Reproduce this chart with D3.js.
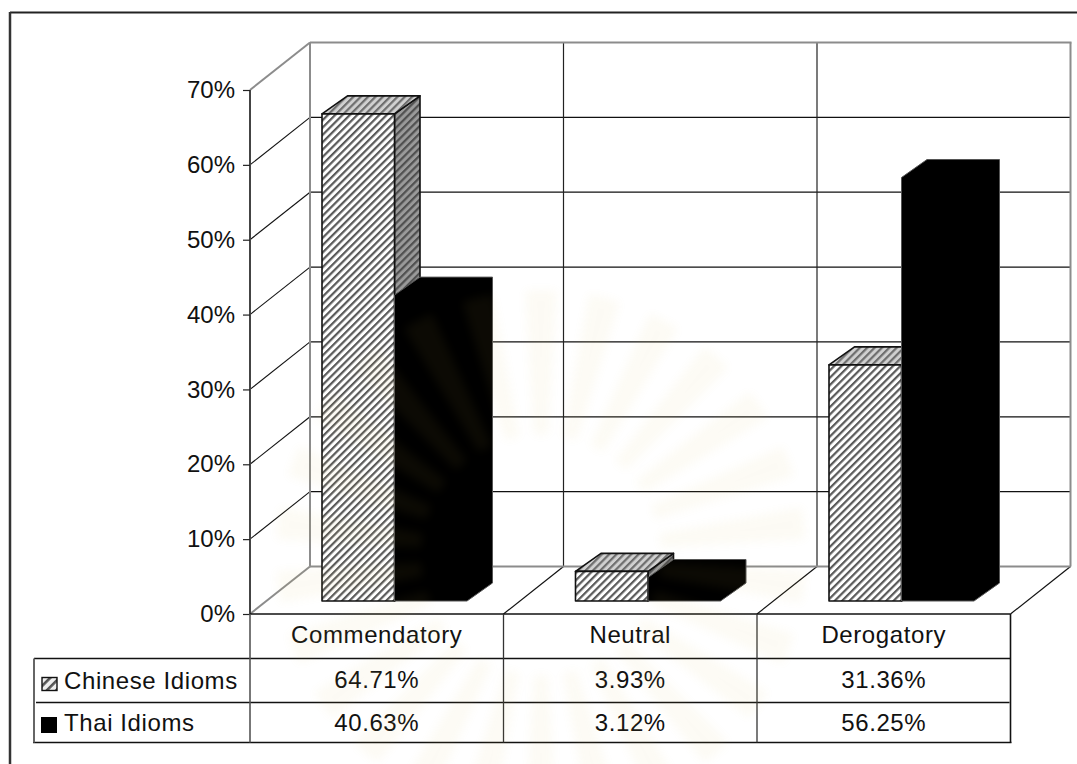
<!DOCTYPE html>
<html>
  <head>
    <title>Chinese and Thai Idioms</title>
    <script src="https://d3js.org/d3.v7.min.js"></script>
    <style>
      html, body { margin: 0; background: #fff; }
      svg { display: block; }
      text {
        font-family: "Liberation Sans", Arial, sans-serif;
        font-size: 24px;
        fill: #111;
        letter-spacing: 0.6px;
      }
    </style>
  </head>
  <body>
    <div id="chart"></div>
    <script>
      const categories = ["Commendatory", "Neutral", "Derogatory"];
      const seriesNames = ["Chinese Idioms", "Thai Idioms"];
      const chineseIdioms = [64.71, 3.93, 31.36];
      const thaiIdioms = [40.63, 3.12, 56.25];
      const tickValues = [0, 10, 20, 30, 40, 50, 60, 70];

      const seriesValues = [chineseIdioms, thaiIdioms];

      const width = 1077;
      const height = 764;
      const plotLeft = 250;
      const plotRight = 1010.5;
      const floorY = 614;
      const topY = 90;
      // how far the back wall is pushed away from the front plane
      const wall = { dx: 60, dy: -47.5 };
      const depth = { dx: 25.5, dy: -18 };
      const barBaseY = 601;
      const rows = [658.5, 702.5, 742.5];
      const legendLeft = 34;

      const svg = d3
        .select("#chart")
        .append("svg")
        .attr("width", width)
        .attr("height", height);

      const x = d3.scaleBand().domain(categories).range([plotLeft, plotRight]);
      const seriesX = d3.scaleBand().domain(seriesNames).range([72, 217]);
      const y = d3.scaleLinear().domain([0, 70]).range([floorY, topY]);
      // bars stand a little forward on the floor, so they get their own scale
      const barY = d3.scaleLinear().domain([0, 70]).range([barBaseY, barBaseY - 527]);

      function hatch(id, back, stripe, size, bar) {
        svg
          .append("defs")
          .append("pattern")
          .attr("id", id)
          .attr("patternUnits", "userSpaceOnUse")
          .attr("width", size)
          .attr("height", size)
          .attr("patternTransform", "rotate(45)")
          .call((p) => {
            p.append("rect").attr("width", size).attr("height", size).attr("fill", back);
            p.append("rect").attr("width", bar).attr("height", size).attr("fill", stripe);
          });
      }
      hatch("hatchFront", "#fff", "#5a5a5a", 5.2, 2.2);
      hatch("hatchTop", "#d0d0d0", "#6e6e6e", 5.2, 2.2);
      hatch("hatchSide", "#9a9a9a", "#505050", 5.2, 2.2);
      hatch("hatchKey", "#eee", "#555", 6.5, 2.6);

      const line = (x1, y1, x2, y2, color, w) =>
        svg
          .append("line")
          .attr("x1", x1)
          .attr("y1", y1)
          .attr("x2", x2)
          .attr("y2", y2)
          .attr("stroke", color)
          .attr("stroke-width", w);

      // outer frame, only top and left are visible
      line(10, 12.5, width, 12.5, "#222", 2);
      line(10, 12, 10, height, "#333", 2.5);

      // gridlines on the side and back walls
      const gridTicks = tickValues.filter((d) => d > 0 && d < 70);
      svg
        .selectAll(".back-grid")
        .data(gridTicks)
        .enter()
        .append("line")
        .attr("x1", plotLeft + wall.dx)
        .attr("x2", plotRight + wall.dx)
        .attr("y1", (d) => y(d) + wall.dy)
        .attr("y2", (d) => y(d) + wall.dy)
        .attr("stroke", "#111")
        .attr("stroke-width", 1.2);
      svg
        .selectAll(".side-grid")
        .data(gridTicks)
        .enter()
        .append("line")
        .attr("x1", plotLeft)
        .attr("x2", plotLeft + wall.dx)
        .attr("y1", (d) => y(d))
        .attr("y2", (d) => y(d) + wall.dy)
        .attr("stroke", "#111")
        .attr("stroke-width", 1.1);

      // category dividers on the back wall and floor
      categories.slice(1).forEach((c) => {
        line(x(c) + wall.dx, y(70) + wall.dy, x(c) + wall.dx, floorY + wall.dy, "#222", 1.2);
      });
      categories.slice(1).concat([null]).forEach((c) => {
        const fx = c ? x(c) : plotRight;
        line(fx, floorY, fx + wall.dx, floorY + wall.dy, "#111", 1.2);
      });

      // wall outlines
      const wallColor = "#8c8c8c";
      line(plotLeft + wall.dx, y(70) + wall.dy, plotRight + wall.dx + 1, y(70) + wall.dy, wallColor, 2);
      line(plotLeft + wall.dx, y(70) + wall.dy, plotLeft + wall.dx, floorY + wall.dy, wallColor, 2);
      line(plotRight + wall.dx, y(70) + wall.dy, plotRight + wall.dx, floorY + wall.dy, wallColor, 2);
      line(plotLeft + wall.dx, floorY + wall.dy, plotRight + wall.dx, floorY + wall.dy, wallColor, 2);
      line(plotLeft, floorY, plotLeft + wall.dx, floorY + wall.dy, wallColor, 2);
      line(plotLeft, y(70), plotLeft + wall.dx, y(70) + wall.dy, wallColor, 2);
      line(plotLeft, y(70), plotLeft, floorY, "#444", 2);

      const polygon = (pts, fill, edge, edgeWidth) =>
        svg
          .append("polygon")
          .attr("points", pts.map((p) => p.join(",")).join(" "))
          .attr("fill", fill)
          .attr("stroke", edge)
          .attr("stroke-width", edgeWidth)
          .attr("stroke-linejoin", "round");

      // one bar as three faces, side and top first so the front sits on them
      function drawHatchedBar(left, w, value) {
        const top = barY(value);
        const right = left + w;
        polygon(
          [
            [right, barBaseY],
            [right + depth.dx, barBaseY + depth.dy],
            [right + depth.dx, top + depth.dy],
            [right, top],
          ],
          "url(#hatchSide)", "#111", 1.6
        );
        polygon(
          [
            [left, top],
            [left + depth.dx, top + depth.dy],
            [right + depth.dx, top + depth.dy],
            [right, top],
          ],
          "url(#hatchTop)", "#111", 1.6
        );
        polygon(
          [
            [left, barBaseY],
            [right, barBaseY],
            [right, top],
            [left, top],
          ],
          "url(#hatchFront)", "#111", 1.6
        );
      }

      // the black bars read as one solid silhouette
      function drawBlackBar(left, w, value) {
        const top = barY(value);
        const right = left + w;
        polygon(
          [
            [left, barBaseY],
            [right, barBaseY],
            [right + depth.dx, barBaseY + depth.dy],
            [right + depth.dx, top + depth.dy],
            [left + depth.dx, top + depth.dy],
            [left, top],
          ],
          "#000", "#555", 1
        );
      }

      categories.forEach((c, i) => {
        drawHatchedBar(x(c) + seriesX(seriesNames[0]), seriesX.bandwidth(), chineseIdioms[i]);
      });
      categories.forEach((c, i) => {
        drawBlackBar(x(c) + seriesX(seriesNames[1]), seriesX.bandwidth(), thaiIdioms[i]);
      });

      // value axis
      const axis = d3
        .axisLeft(y)
        .tickValues(tickValues)
        .tickFormat((d) => d + "%")
        .tickSize(7)
        .tickPadding(8);
      const axisG = svg.append("g").attr("transform", `translate(${plotLeft}, 0)`).call(axis);
      axisG.select(".domain").remove();
      axisG.selectAll("line").attr("stroke", "#222").attr("stroke-width", 1.2);
      axisG
        .selectAll("text")
        .attr("fill", "#111")
        .style("font-size", "24px")
        .style("letter-spacing", "0");
      axisG.attr("font-family", null);

      // data table under the chart
      const tableLines = "#111";
      line(plotLeft, floorY, plotRight, floorY, tableLines, 1.4);
      line(legendLeft, rows[0], plotRight, rows[0], tableLines, 1.3);
      line(legendLeft + 2, rows[1], plotRight - 1, rows[1], tableLines, 1.3);
      line(legendLeft - 1, rows[2], plotRight + 1, rows[2], tableLines, 1.4);
      line(legendLeft, rows[0], legendLeft, rows[2], "#666", 2);
      line(plotLeft, floorY, plotLeft, rows[2], "#555", 1.6);
      categories.slice(1).forEach((c) => {
        line(x(c), floorY, x(c), rows[2], "#333", 1.3);
      });
      line(plotRight, floorY, plotRight, rows[2], "#111", 1.6);

      svg
        .selectAll(".cat-label")
        .data(categories)
        .enter()
        .append("text")
        .attr("x", (d) => x(d) + x.bandwidth() / 2)
        .attr("y", 643)
        .attr("text-anchor", "middle")
        .text((d) => d);

      const rowBaselines = [688, 731];
      seriesValues.forEach((values, s) => {
        svg
          .selectAll(".row-" + s)
          .data(values)
          .enter()
          .append("text")
          .attr("x", (d, i) => x(categories[i]) + x.bandwidth() / 2)
          .attr("y", rowBaselines[s])
          .attr("text-anchor", "middle")
          .text((d) => d.toFixed(2) + "%");
        svg
          .append("text")
          .attr("x", 64)
          .attr("y", rowBaselines[s] + (s === 0 ? 1 : 0))
          .text(seriesNames[s]);
      });

      // legend keys in the first table column
      svg
        .append("rect")
        .attr("x", 42)
        .attr("y", 677.5)
        .attr("width", 15)
        .attr("height", 13)
        .attr("fill", "url(#hatchKey)")
        .attr("stroke", "#111")
        .attr("stroke-width", 1.4);
      svg
        .append("rect")
        .attr("x", 41)
        .attr("y", 717)
        .attr("width", 16)
        .attr("height", 16)
        .attr("fill", "#000");

      // pale sunburst seal printed across the page
      svg
        .append("defs")
        .append("filter")
        .attr("id", "soft")
        .append("feGaussianBlur")
        .attr("stdDeviation", 5);
      const seal = svg
        .append("g")
        .attr("transform", "translate(541, 555)")
        .attr("filter", "url(#soft)")
        .attr("opacity", 0.055)
        .style("pointer-events", "none");
      const rayArc = d3.arc().innerRadius(120).outerRadius(265);
      d3.range(26).forEach((i) => {
        const a = (i * 2 * Math.PI) / 26;
        seal
          .append("path")
          .attr("d", rayArc({ startAngle: a - 0.06, endAngle: a + 0.06 }))
          .attr("fill", "#d6b84a");
      });
    </script>
  </body>
</html>
